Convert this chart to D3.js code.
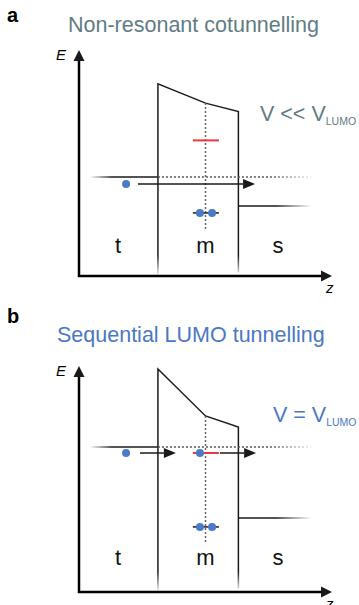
<!DOCTYPE html>
<html lang="en">
<head>
<meta charset="UTF-8">
<title>Tunnelling schematic</title>
<style>
  body { margin: 0; background: #fff; }
  svg text { font-family: "Liberation Sans", Arial, sans-serif; }
</style>
</head>
<body>
<script src="https://cdn.jsdelivr.net/npm/d3@7/dist/d3.min.js"></script>
<script>
// --- data (z and E in arbitrary units, 0..100) ---
const panels = ['a', 'b'];
const titles = ['Non-resonant cotunnelling', 'Sequential LUMO tunnelling'];
const biasLabels = ['V << V', 'V = V'];
const biasSub = 'LUMO';
const regions = ['t', 'm', 's'];
const regionZ = [15.4, 50, 78.7];
const regionE = [10.2, 12];
const barrierZ = [31.2, 50, 63];          // tip edge, molecule centre, sample edge
const barrierTop = [[85, 76.5, 72.8], [98.7, 77.9, 73]];
const fermiTip = [43.8, 64.2];
const fermiSample = [31, 32.7];
const lumoE = [60, 61.5];
const homoE = [27.9, 28.8];
const molDotEnd = [20.4, 21.7];
const electronE = [40.7, 61.5];
const electronZ = [[18.6], [18.6, 47.8]];
const homoDotsZ = [47.8, 52.6];
const arrowsZ = [[[23.3, 69.6]], [[24.1, 38.3], [55.7, 70]]];
const levelZ = [45, 55.3];
const leadStart = 4.3, leadEnd = 92;

// --- layout ---
const W = 359, H = 605;
const offsetY = [0, 316];
const titleX = [68, 57], titleY = [32, 26];
const titleColors = ['#5f7c84', '#4a78c6'];
const biasX = [260, 273], biasY = [121, 106];
const blue = '#4a7bc8', red = '#e8383d', ink = '#1a1a1a';

const svg = d3.select('body').append('svg')
    .attr('width', W).attr('height', H);

const x = d3.scaleLinear().domain([0, 100]).range([79, 332]);
const y = d3.scaleLinear().domain([0, 100]).range([276, 50]);

const defs = svg.append('defs');
function grad(id, x1, y1, x2, y2, color, o1, o2) {
    const g = defs.append('linearGradient').attr('id', id)
        .attr('gradientUnits', 'userSpaceOnUse')
        .attr('x1', x1).attr('y1', y1).attr('x2', x2).attr('y2', y2);
    g.append('stop').attr('offset', 0).attr('stop-color', color).attr('stop-opacity', o1);
    g.append('stop').attr('offset', 1).attr('stop-color', color).attr('stop-opacity', o2);
}
grad('fadeLeft', x(leadStart), 0, x(13), 0, ink, 0, 1);
grad('fadeRight', x(78), 0, x(leadEnd), 0, ink, 1, 0);
grad('fadeRightDot', x(75), 0, x(leadEnd), 0, '#555', 1, 0.1);
grad('fadeDown', 0, y(9), 0, y(0.5), ink, 1, 0.1);

function arrow(g, x1, y1, x2, y2, len, wid, sw) {
    const a = Math.atan2(y2 - y1, x2 - x1);
    const bx = x2 - len * Math.cos(a), by = y2 - len * Math.sin(a);
    g.append('line').attr('x1', x1).attr('y1', y1).attr('x2', bx).attr('y2', by)
        .attr('stroke', ink).attr('stroke-width', sw);
    const px = Math.sin(a) * wid / 2, py = -Math.cos(a) * wid / 2;
    g.append('path')
        .attr('d', `M${x2},${y2}L${bx + px},${by + py}L${bx - px},${by - py}Z`)
        .attr('fill', ink);
}

panels.forEach((p, i) => {
    const g = svg.append('g').attr('transform', `translate(0,${offsetY[i]})`);

    g.append('text').text(p)
        .attr('x', 7).attr('y', i ? 7 : 22)
        .attr('font-size', 20).attr('font-weight', 'bold').attr('fill', '#000');

    g.append('text').text(titles[i])
        .attr('x', titleX[i]).attr('y', i ? titleY[1] : titleY[0])
        .attr('font-size', 21.5).attr('fill', titleColors[i]);

    const bl = g.append('text')
        .attr('x', biasX[i]).attr('y', biasY[i])
        .attr('font-size', 21.5).attr('fill', titleColors[i]);
    bl.append('tspan').text(biasLabels[i]);
    bl.append('tspan').text(biasSub).attr('font-size', 10.5).attr('dy', 4);

    // axes
    g.append('path')
        .attr('d', `M${x(0)},${y(100) + 9}L${x(0)},${y(0)}L${x(100) - 9},${y(0)}`)
        .attr('fill', 'none').attr('stroke', '#000').attr('stroke-width', 2.5);
    arrow(g, x(0), y(96), x(0), y(100), 11, 11, 2.5);
    arrow(g, x(96), y(0), x(100), y(0), 11, 11, 2.5);
    g.append('text').text('E').attr('x', 56).attr('y', y(100) + 10)
        .attr('font-size', 15).attr('font-style', 'italic');
    g.append('text').text('z').attr('x', 326).attr('y', y(0) + 17)
        .attr('font-size', 15).attr('font-style', 'italic');

    // barrier profile
    const top = barrierTop[i];
    const pts = [[barrierZ[0], 0.5], [barrierZ[0], top[0]], [barrierZ[1], top[1]],
                 [barrierZ[2], top[2]], [barrierZ[2], 1.5]];
    g.append('path')
        .attr('d', d3.line().x(d => x(d[0])).y(d => y(d[1]))(pts))
        .attr('fill', 'none').attr('stroke', 'url(#fadeDown)').attr('stroke-width', 1.5);

    // tip fermi level
    g.append('line')
        .attr('x1', x(leadStart)).attr('x2', x(barrierZ[0]))
        .attr('y1', y(fermiTip[i])).attr('y2', y(fermiTip[i]))
        .attr('stroke', 'url(#fadeLeft)').attr('stroke-width', 1.5);
    g.append('line')
        .attr('x1', x(barrierZ[0])).attr('x2', x(leadEnd))
        .attr('y1', y(fermiTip[i])).attr('y2', y(fermiTip[i]))
        .attr('stroke', 'url(#fadeRightDot)').attr('stroke-width', 1.5)
        .attr('stroke-dasharray', '2,2');

    // sample fermi level
    g.append('line')
        .attr('x1', x(barrierZ[2])).attr('x2', x(leadEnd))
        .attr('y1', y(fermiSample[i])).attr('y2', y(fermiSample[i]))
        .attr('stroke', 'url(#fadeRight)').attr('stroke-width', 1.5);

    // molecule centre
    g.append('line')
        .attr('x1', x(barrierZ[1])).attr('x2', x(barrierZ[1]))
        .attr('y1', y(top[1])).attr('y2', y(molDotEnd[i]))
        .attr('stroke', '#666').attr('stroke-width', 1.5).attr('stroke-dasharray', '2,2');

    // LUMO and HOMO
    g.append('line')
        .attr('x1', x(levelZ[0])).attr('x2', x(levelZ[1]))
        .attr('y1', y(lumoE[i])).attr('y2', y(lumoE[i]))
        .attr('stroke', red).attr('stroke-width', 2);
    g.append('line')
        .attr('x1', x(levelZ[0])).attr('x2', x(levelZ[1]))
        .attr('y1', y(homoE[i])).attr('y2', y(homoE[i]))
        .attr('stroke', ink).attr('stroke-width', 1.5);
    g.selectAll('.homo').data(homoDotsZ).enter().append('circle')
        .attr('cx', d => x(d)).attr('cy', y(homoE[i])).attr('r', 4).attr('fill', blue);

    // electrons and tunnelling arrows
    arrowsZ[i].forEach(a => arrow(g, x(a[0]), y(electronE[i]), x(a[1]), y(electronE[i]), 12, 10, 1.5));
    g.selectAll('.el').data(electronZ[i]).enter().append('circle')
        .attr('cx', d => x(d)).attr('cy', y(electronE[i])).attr('r', 4).attr('fill', blue);

    // region labels
    g.selectAll('.reg').data(regions).enter().append('text')
        .text(d => d)
        .attr('x', (d, k) => x(regionZ[k])).attr('y', y(regionE[i]))
        .attr('text-anchor', 'middle').attr('font-size', 22).attr('fill', '#111');
});
</script>
</body>
</html>
